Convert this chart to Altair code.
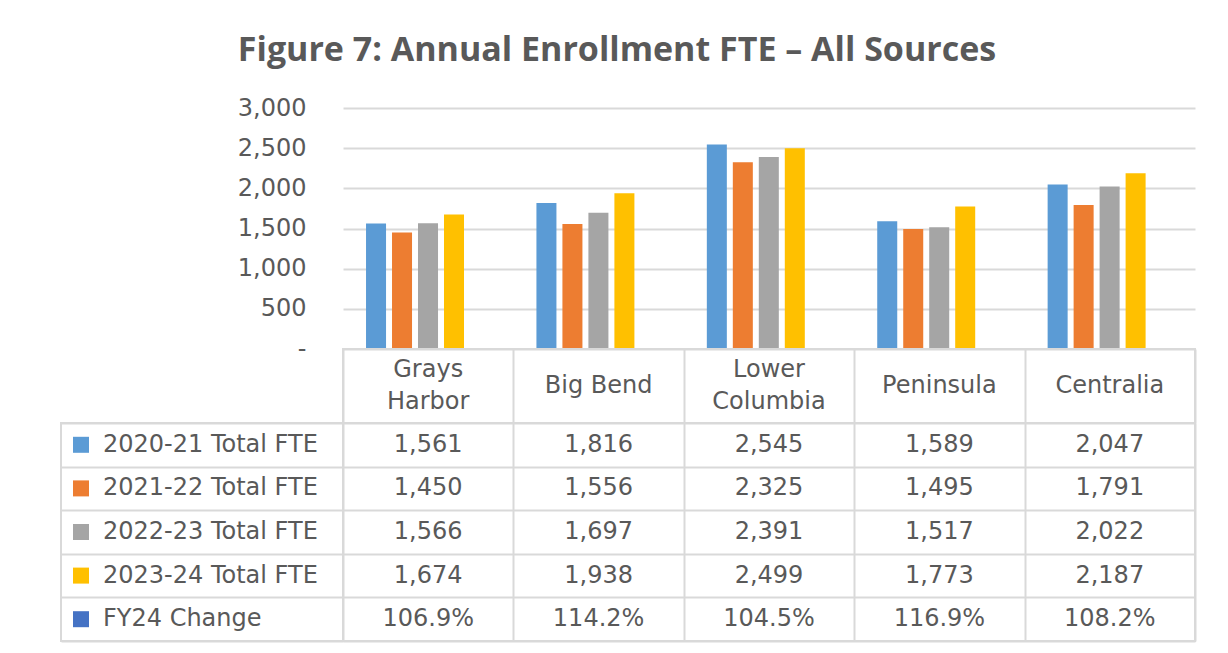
import altair as alt
import pandas as pd

colleges = ["Grays Harbor", "Big Bend", "Lower Columbia", "Peninsula", "Centralia"]
series = ["2020-21 Total FTE", "2021-22 Total FTE", "2022-23 Total FTE", "2023-24 Total FTE"]
fte_2020_21 = [1561, 1816, 2545, 1589, 2047]
fte_2021_22 = [1450, 1556, 2325, 1495, 1791]
fte_2022_23 = [1566, 1697, 2391, 1517, 2022]
fte_2023_24 = [1674, 1938, 2499, 1773, 2187]
change_label = "FY24 Change"
fy24_change_pct = [106.9, 114.2, 104.5, 116.9, 108.2]
colors = ["#5B9BD5", "#ED7D31", "#A5A5A5", "#FFC000", "#4472C4"]
y_ticks = [0, 500, 1000, 1500, 2000, 2500, 3000]
title_text = "Figure 7: Annual Enrollment FTE \u2013 All Sources"

rows = series + [change_label]
records = []
for s, vals in zip(series, [fte_2020_21, fte_2021_22, fte_2022_23, fte_2023_24]):
    for c, v in zip(colleges, vals):
        records.append({"college": c, "row": s, "value": v})
for c, v in zip(colleges, fy24_change_pct):
    records.append({"college": c, "row": change_label, "value": v})
df = pd.DataFrame(records)
fte = df[df["row"] != change_label]
row_df = pd.DataFrame({"row": rows})
col_df = pd.DataFrame({"college": colleges})

FONT = "DejaVu Sans"
TXT = "#595959"
LINE = "#D9D9D9"
FS = 24

color_scale = alt.Scale(domain=rows, range=colors)
band = alt.Scale(paddingInner=0, paddingOuter=0)
cell_view = alt.ViewBackground(stroke=LINE, strokeWidth=2)


def grid_axis():
    return alt.Axis(grid=True, tickBand="extent", gridColor=LINE, gridWidth=2,
                    labels=False, ticks=False, domain=False, title=None)


bars = alt.Chart(fte).mark_bar().encode(
    x=alt.X("college:N", sort=colleges, axis=None,
            scale=alt.Scale(paddingInner=0.425, paddingOuter=0.2125, align=0.318)),
    xOffset=alt.XOffset("row:N", sort=series,
                        scale=alt.Scale(paddingInner=0.23, paddingOuter=0)),
    y=alt.Y("value:Q", scale=alt.Scale(domain=[0, 3000], nice=False),
            axis=alt.Axis(values=y_ticks, title=None, grid=True, gridColor=LINE, gridWidth=2,
                          domain=False, ticks=False, labelPadding=37, labelFont=FONT,
                          labelFontSize=FS, labelColor=TXT,
                          labelExpr="datum.value == 0 ? '-\u00a0\u00a0' : format(datum.value, ',')")),
    color=alt.Color("row:N", scale=color_scale, legend=None),
).properties(width=852, height=241)

# header: short names on one line, long names wrapped onto two lines
header_base = alt.Chart(col_df).transform_calculate(
    lbl="replace(datum.college, ' ', '\\n')",
    two="length(datum.college) > 9",
)
header_x = alt.X("college:N", sort=colleges, scale=band, axis=grid_axis())
header_one = header_base.transform_filter("!datum.two").mark_text(
    font=FONT, fontSize=FS, color=TXT, baseline="middle").encode(
    x=header_x, text="college:N")
header_two = header_base.transform_filter("datum.two").mark_text(
    font=FONT, fontSize=FS, color=TXT, baseline="middle", lineBreak="\n",
    lineHeight=32, dy=-16).encode(
    x=header_x, text="lbl:N")
header = alt.layer(header_one, header_two).properties(width=852, height=74, view=cell_view)

body = alt.Chart(df).transform_calculate(
    label=f"datum.row == '{change_label}' ? format(datum.value / 100, '.1%') : format(datum.value, ',')"
).mark_text(font=FONT, fontSize=FS, color=TXT, baseline="middle").encode(
    x=alt.X("college:N", sort=colleges, scale=band, axis=grid_axis()),
    y=alt.Y("row:N", sort=rows, scale=band, axis=grid_axis()),
    text="label:N",
).properties(width=852, height=218, view=cell_view)

left_sym = alt.Chart(row_df).mark_square(size=256, opacity=1, xOffset=-121).encode(
    y=alt.Y("row:N", sort=rows, scale=band, axis=grid_axis()),
    color=alt.Color("row:N", scale=color_scale, legend=None),
)
left_txt = alt.Chart(row_df).mark_text(font=FONT, fontSize=FS, color=TXT, align="left",
                                       baseline="middle", dx=-99).encode(
    y=alt.Y("row:N", sort=rows, scale=band, axis=grid_axis()),
    text="row:N",
)
left = alt.layer(left_sym, left_txt).properties(width=282, height=218, view=cell_view)


def blank(h):
    return alt.Chart(pd.DataFrame({"t": [""]})).mark_text().encode(text="t:N").properties(
        width=282, height=h)


chart = alt.concat(
    blank(241), bars, blank(74), header, left, body,
    columns=2, spacing=0, bounds="flush", align="each",
).properties(
    title=alt.TitleParams(text=title_text, font="Open Sans", fontSize=34, fontWeight="bold",
                          color=TXT, anchor="middle", offset=28, dx=-11),
    padding={"left": 52, "top": 25, "right": 5, "bottom": 5},
).configure_view(stroke="transparent")

chart.save("out.html", embed_options={"renderer": "svg", "actions": False})
